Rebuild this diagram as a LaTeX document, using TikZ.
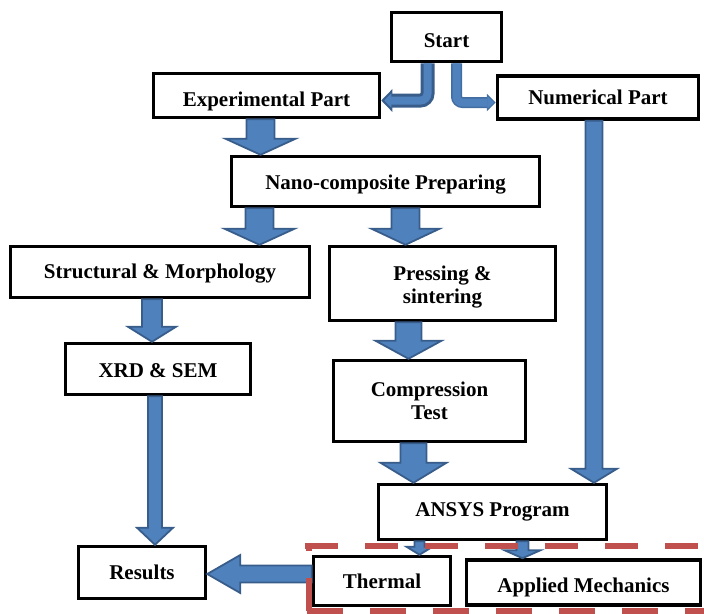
\documentclass[tikz,border=0pt]{standalone}
\usepackage{fontspec}
\setmainfont{Liberation Serif}
\usetikzlibrary{calc, arrows.meta}

\tikzset{
    box/.style={draw=black, line width=3.5pt, fill=white, inner sep=0pt, align=center,
        font=\fontsize{21}{23}\selectfont\bfseries},
    % lowers the text in a box: baseline sits #1/2 below the middle
    lowText/.style={text height=#1, text depth=0pt},
    blockArrow/.style={fill=arrowFill, draw=arrowLine, line width=1.8pt, line join=miter},
    % block arrow pointing down: half shaft, half head, head length
    downArrow/.style n args={3}{to path={let \p1=(\tikztostart), \p2=(\tikztotarget) in
        (\x1-#1,\y1) -- (\x1+#1,\y1) -- (\x1+#1,\y2+#3) -- (\x1+#2,\y2+#3) -- (\x1,\y2)
        -- (\x1-#2,\y2+#3) -- (\x1-#1,\y2+#3) -- cycle}},
    % block arrow pointing left
    leftArrow/.style n args={3}{to path={let \p1=(\tikztostart), \p2=(\tikztotarget) in
        (\x1,\y1+#1) -- (\x2+#3,\y1+#1) -- (\x2+#3,\y1+#2) -- (\x2,\y1)
        -- (\x2+#3,\y1-#2) -- (\x2+#3,\y1-#1) -- (\x1,\y1-#1) -- cycle}},
}

\begin{document}
\begin{tikzpicture}[x=1pt, y=-1pt]
    \definecolor{arrowFill}{HTML}{4F81BD}
    \definecolor{arrowLine}{HTML}{385D8A}
    \definecolor{dashColour}{HTML}{C0504D}

    % Fix the canvas
    \useasboundingbox (0,0) rectangle (704,613);
    \clip (0,0) rectangle (704,613);

    % Draw the boxes
    \node[box, lowText=20pt, minimum width=110pt, minimum height=49pt] (start) at (446.5,37) {Start};
    \node[box, lowText=21pt, minimum width=226pt, minimum height=44pt] (exp) at (266.5,95.5) {Experimental Part};
    \node[box, lowText=14pt, minimum width=201pt, minimum height=43pt] (num) at (598,97.5) {Numerical Part};
    \node[box, lowText=15.5pt, minimum width=308pt, minimum height=50pt] (nano) at (385.5,181.5) {Nano-composite Preparing};
    \node[box, lowText=12pt, minimum width=299pt, minimum height=51pt] (struct) at (160,272) {Structural \& Morphology};
    \node[box, minimum width=226pt, minimum height=74pt] (press) at (442.5,283.5) {\rule{0pt}{21pt}Pressing \&\\sintering};
    \node[box, lowText=16pt, minimum width=185pt, minimum height=51pt] (xrd) at (158,369) {XRD \& SEM};
    \node[box, minimum width=192pt, minimum height=81pt] (comp) at (429.5,401) {Compression\\Test};
    \node[box, minimum width=228pt, minimum height=55pt] (ansys) at (492.5,512) {ANSYS Program};
    \node[box, minimum width=127pt, minimum height=52pt] (results) at (142,572.5) {Results};
    \node[box, minimum width=137pt, minimum height=49pt] (thermal) at (382,581) {Thermal};
    \node[box, lowText=20pt, minimum width=234pt, minimum height=45pt] (applied) at (583.5,582.5) {Applied Mechanics};

    % Bent arrows out of start
    \draw[line width=14pt, draw=arrowLine, rounded corners=7pt, -{Triangle[length=11pt, width=22pt]}]
        ([xshift=-19pt]start.south) |- ([yshift=-5pt]exp.east);
    \draw[line width=8pt, draw=arrowFill, rounded corners=7pt, -{Triangle[length=7pt, width=14pt]}, shorten >=3pt]
        ([xshift=-19pt]start.south) |- ([yshift=-5pt]exp.east);
    \draw[line width=11pt, draw=arrowLine!55!arrowFill, rounded corners=6pt, -{Triangle[length=9pt, width=17pt]}]
        ([xshift=10pt]start.south) |- ([yshift=-5pt]num.west);
    \draw[line width=8pt, draw=arrowFill, rounded corners=6pt, -{Triangle[length=7pt, width=12pt]}, shorten >=1.5pt]
        ([xshift=10pt]start.south) |- ([yshift=-5pt]num.west);

    % Draw the block arrows
    \draw[blockArrow] ([xshift=-6pt]exp.south) to[downArrow={14pt}{35pt}{16pt}] (nano.north);
    \draw[blockArrow] ([xshift=-126pt]nano.south) to[downArrow={14pt}{35pt}{16pt}] (struct.north);
    \draw[blockArrow] ([xshift=20pt]nano.south) to[downArrow={14pt}{34pt}{16pt}] (press.north);
    \draw[blockArrow] ([xshift=-8pt]struct.south) to[downArrow={10pt}{24pt}{15pt}] (xrd.north);
    \draw[blockArrow] ([xshift=-34pt]press.south) to[downArrow={13pt}{33pt}{18pt}] (comp.north);
    \draw[blockArrow] ([xshift=-3pt]xrd.south) to[downArrow={7pt}{18pt}{17pt}] (results.north);
    \draw[blockArrow] ([xshift=-16pt]comp.south) to[downArrow={13pt}{33pt}{20pt}] (ansys.north);
    \draw[blockArrow] ([xshift=-4pt]num.south) to[downArrow={8.5pt}{23pt}{14pt}] (ansys.north);
    \draw[blockArrow] ([xshift=-73pt]ansys.south) to[downArrow={5pt}{13pt}{8pt}] (thermal.north);
    \draw[blockArrow] ([xshift=30pt]ansys.south) to[downArrow={6pt}{18pt}{8pt}] (applied.north);
    \draw[blockArrow] ([yshift=7pt]thermal.west) to[leftArrow={8.5pt}{19pt}{33pt}] (results.east);

    % Dashed frame round the numerical results
    \draw[dashColour, line width=6pt, dash pattern=on 33pt off 27pt] (305,546) -- (704,546);
    \draw[dashColour, line width=6pt, dash pattern=on 33pt off 27pt] (309,611) -- (309,546);
    \draw[dashColour, line width=6pt, dash pattern=on 36pt off 27pt] (307,611) -- (704,611);

\end{tikzpicture}
\end{document}
